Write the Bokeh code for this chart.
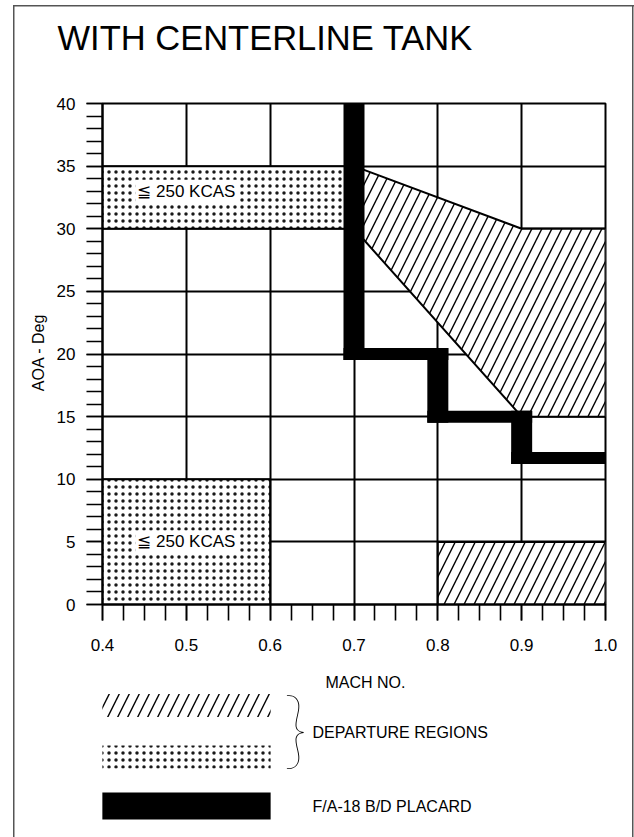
import math
from bokeh.plotting import figure
from bokeh.models import FixedTicker, PrintfTickFormatter, Label, Range1d
from bokeh.embed import file_html
from bokeh.resources import INLINE

# ---------------- data ----------------
mach_ticks = [0.4, 0.5, 0.6, 0.7, 0.8, 0.9, 1.0]
mach_minor_ticks = [0.4, 0.425, 0.45, 0.475, 0.5, 0.525, 0.55, 0.575, 0.6, 0.625, 0.65,
                    0.675, 0.7, 0.725, 0.75, 0.775, 0.8, 0.825, 0.85, 0.875, 0.9, 0.925,
                    0.95, 0.975, 1.0]
aoa_ticks = [0, 5, 10, 15, 20, 25, 30, 35, 40]
aoa_minor_ticks = list(range(0, 41))

# stippled departure regions (<= 250 KCAS)
stipple_left = [0.4, 0.4]
stipple_right = [0.7, 0.6]
stipple_bottom = [30, 0]
stipple_top = [35, 10]
kcas_mach = [0.5, 0.5]
kcas_aoa = [33.0, 5.0]
kcas_text = "≦ 250 KCAS"

# hatched departure regions
hatch_poly_mach = [0.7, 0.9, 1.0, 1.0, 0.9, 0.7]
hatch_poly_aoa = [35, 30, 30, 15, 15, 30]
hatch_rect_left = [0.8]
hatch_rect_right = [1.0]
hatch_rect_bottom = [0]
hatch_rect_top = [5]

# F/A-18 B/D placard boundary (step line)
placard_mach = [0.7, 0.7, 0.8, 0.8, 0.9, 0.9, 1.0]
placard_aoa = [40, 20, 20, 15, 15, 11.7, 11.7]

# ---------------- layout constants (page px) ----------------
X0, X1 = 0.4, 1.0
Y0, Y1 = 0.0, 40.0
FRAME_L, FRAME_T, FRAME_W, FRAME_H = 102, 103, 503, 501
CANVAS_W, CANVAS_H = 634, 837
FRAME_B = FRAME_T + FRAME_H
FONT = "Liberation Sans"
THIN_FONT = ("'Lato Hairline', 'Roboto Thin', 'Lato Thin', 'Roboto Light', 'Lato Light', "
             "'Open Sans Light', 'DejaVu Sans ExtraLight', sans-serif")

HATCH = dict(pattern="/", color="black", scale=20, weight=1.4)
STIPPLE = dict(pattern=".", color="black", scale=7, weight=0.3, alpha=0.9)

# thin grey frame round the whole figure (left, top, right; open at the bottom)
BORDER_CSS = {
    "background-image": "linear-gradient(#555,#555), linear-gradient(#555,#555), "
                        "linear-gradient(#555,#555)",
    "background-size": "1.5px 100%, 621.5px 1.5px, 1.5px 100%",
    "background-position": "12.5px 5px, 12.5px 4.5px, 632px 5px",
    "background-repeat": "no-repeat",
    "background-color": "white",
}


def hatch_kw(prefix, h):
    return {f"{prefix}_{k}": v for k, v in h.items()}


def dx(px):
    """page pixel x -> data x (linear scale extended beyond the frame)"""
    return X0 + (px - FRAME_L) * (X1 - X0) / FRAME_W


def dy(py):
    return Y0 + (FRAME_B - py) * (Y1 - Y0) / FRAME_H


p = figure(frame_width=FRAME_W, frame_height=FRAME_H,
           x_range=Range1d(X0, X1), y_range=Range1d(Y0, Y1),
           output_backend="svg", toolbar_location=None,
           min_border_left=FRAME_L,
           min_border_top=FRAME_T,
           min_border_right=CANVAS_W - FRAME_L - FRAME_W,
           min_border_bottom=CANVAS_H - FRAME_T - FRAME_H,
           styles=BORDER_CSS)
p.background_fill_color = "white"
p.border_fill_color = None
p.outline_line_color = "black"
p.outline_line_width = 2

p.xaxis.ticker = FixedTicker(ticks=mach_ticks, minor_ticks=mach_minor_ticks)
p.yaxis.ticker = FixedTicker(ticks=aoa_ticks, minor_ticks=aoa_minor_ticks)
p.xaxis.formatter = PrintfTickFormatter(format="%.1f")
for ax in (p.xaxis[0], p.yaxis[0]):
    ax.axis_line_color = "black"
    ax.axis_line_width = 2
    ax.major_tick_in = 0
    ax.major_tick_out = 16
    ax.minor_tick_in = 0
    ax.minor_tick_out = 16
    ax.major_tick_line_color = "black"
    ax.minor_tick_line_color = "black"
    ax.major_tick_line_width = 1.6
    ax.minor_tick_line_width = 1.6
    ax.major_label_text_font = FONT
    ax.major_label_text_font_size = "17px"
    ax.major_label_text_color = "black"
p.xaxis.major_label_standoff = 18
p.yaxis.major_label_standoff = 11

p.grid.grid_line_color = "black"
p.grid.grid_line_width = 2
p.grid.grid_line_alpha = 1

# stippled regions
p.quad(left=stipple_left, right=stipple_right, bottom=stipple_bottom, top=stipple_top,
       fill_color="white", line_color="black", line_width=2, **hatch_kw("hatch", STIPPLE))

# hatched regions
p.patch(hatch_poly_mach, hatch_poly_aoa, fill_color="white", line_color="black",
        line_width=2, **hatch_kw("hatch", HATCH))
p.quad(left=hatch_rect_left, right=hatch_rect_right, bottom=hatch_rect_bottom,
       top=hatch_rect_top, fill_color="white", line_color="black", line_width=2,
       **hatch_kw("hatch", HATCH))

# placard thick step line, built from the path as bars
VW, HW = 21, 12  # bar thickness in px (vertical / horizontal runs)
dxpx = (X1 - X0) / FRAME_W
dypx = (Y1 - Y0) / FRAME_H
ql, qr, qb, qt = [], [], [], []
for i in range(len(placard_mach) - 1):
    m0, m1 = placard_mach[i], placard_mach[i + 1]
    a0, a1 = placard_aoa[i], placard_aoa[i + 1]
    if m0 == m1:
        ql.append(m0 - VW / 2 * dxpx)
        qr.append(m0 + VW / 2 * dxpx)
        qb.append(min(a0, a1) - HW / 2 * dypx)
        qt.append(max(a0, a1) + HW / 2 * dypx)
    else:
        ql.append(min(m0, m1) - VW / 2 * dxpx)
        qr.append(max(m0, m1) + VW / 2 * dxpx)
        qb.append(a0 - HW / 2 * dypx)
        qt.append(a0 + HW / 2 * dypx)
p.quad(left=ql, right=qr, bottom=qb, top=qt, fill_color="black", line_color=None)

# in-plot labels
for m, a in zip(kcas_mach, kcas_aoa):
    p.add_layout(Label(x=m, y=a, text=kcas_text, text_font=FONT, text_font_size="17px",
                       text_color="black", text_align="center", text_baseline="middle",
                       background_fill_color="white", padding=2))


# ---------------- outside elements (in side panels so they are not clipped) ----------------
def text(px, py, s, size="16px", align="left", angle=0.0, font=FONT):
    return Label(x=dx(px), y=dy(py), text=s, text_font=font, text_font_size=size,
                 text_color="black", text_align=align, text_baseline="middle", angle=angle)


def swatch(l, r, t, b, **kw):
    cx, cy = (l + r) / 2, (t + b) / 2
    hw, hh = int((r - l) / 2), int((b - t) / 2)
    return Label(x=dx(cx), y=dy(cy), text=" ", text_font_size="1px",
                 text_align="center", text_baseline="middle",
                 padding=dict(left=hw, right=hw, top=hh, bottom=hh), **kw)


p.add_layout(text(57, 37, "WITH CENTERLINE TANK", size="34.5px"), "above")
p.add_layout(text(312, 806, "F/A-18 B/D PLACARD"), "above")
p.add_layout(swatch(102, 270, 792, 819, background_fill_color="black"), "above")

p.add_layout(text(38, 352, "AOA - Deg", align="center", angle=math.pi / 2), "below")
p.add_layout(text(365, 682, "MACH NO.", align="center"), "below")
p.add_layout(text(312, 732, "DEPARTURE REGIONS"), "below")
p.add_layout(swatch(102, 270, 694, 716, background_fill_color=None,
                    **hatch_kw("background_hatch", HATCH)), "below")
p.add_layout(swatch(102, 270, 745, 768, background_fill_color=None,
                    **hatch_kw("background_hatch", STIPPLE)), "below")

# curly brace grouping the two departure-region swatches
p.add_layout(text(295, 726, "}", size="84px", align="center", font=THIN_FONT), "right")

open("out.html", "w").write(file_html(p, INLINE))
